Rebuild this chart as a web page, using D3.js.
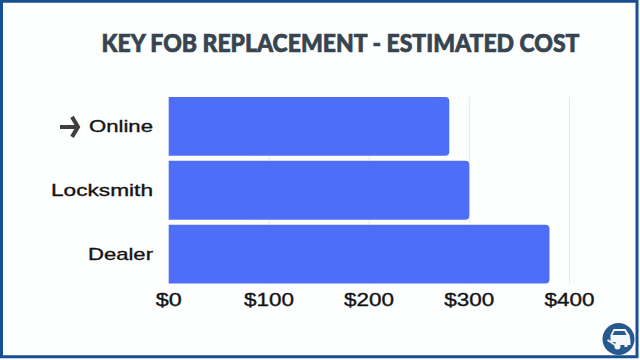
<!DOCTYPE html>
<html><head><meta charset="utf-8">
<script src="https://cdn.jsdelivr.net/npm/d3@7"></script>
<style>html,body{margin:0;padding:0;background:#fdfefe;overflow:hidden}svg{display:block}</style>
</head><body><svg id="c" width="640" height="360"></svg>
<script>
const titleText = "KEY FOB REPLACEMENT - ESTIMATED COST";
const categories = ["Online", "Locksmith", "Dealer"];
const costs = [280, 300, 380];
const tickValues = [0, 100, 200, 300, 400];

const svg = d3.select("#c");
const x = d3.scaleLinear().domain([0, 400]).range([168.7, 569.5]);
const y = d3.scaleBand().domain(categories).range([97, 283.5]).paddingInner(0.08).paddingOuter(0);

// frame
svg.append("rect").attr("x",1.5).attr("y",1.25).attr("width",635.5).attr("height",355.5)
  .attr("fill","#fdfefe").attr("stroke","#174f92").attr("stroke-width",3);

// gridlines
svg.append("g").selectAll("line").data(tickValues.slice(1)).join("line")
  .attr("x1",d=>x(d)).attr("x2",d=>x(d)).attr("y1",97).attr("y2",284)
  .attr("stroke","#e6e8ea").attr("stroke-width",1);

// bars: square on the left, rounded on the right
svg.append("g").selectAll("path").data(costs).join("path")
  .attr("fill","#4f6ef7")
  .attr("d",(d,i)=>{
    const x0=x(0), x1=x(d), y0=y(categories[i]), h=y.bandwidth(), r=4;
    return `M${x0},${y0}H${x1-r}Q${x1},${y0} ${x1},${y0+r}V${y0+h-r}Q${x1},${y0+h} ${x1-r},${y0+h}H${x0}Z`;
  });

// category labels
svg.append("g").selectAll("text").data(categories).join("text")
  .attr("x",153).attr("y",d=>y(d)+y.bandwidth()/2+6)
  .attr("text-anchor","end")
  .attr("font-family","'Liberation Sans',Arial,sans-serif")
  .attr("font-size",17).attr("fill","#141414")
  .attr("stroke","#141414").attr("stroke-width",0.35)
  .attr("textLength",d=>({Online:64,Locksmith:102,Dealer:65})[d])
  .attr("lengthAdjust","spacingAndGlyphs")
  .text(d=>d);

// value axis labels
svg.append("g").selectAll("text").data(tickValues).join("text")
  .attr("x",d=>x(d)).attr("y",306)
  .attr("text-anchor","middle")
  .attr("font-family","'Liberation Sans',Arial,sans-serif")
  .attr("font-size",18).attr("fill","#141414")
  .attr("stroke","#141414").attr("stroke-width",0.35)
  .attr("textLength",d=>d===0?26:50)
  .attr("lengthAdjust","spacingAndGlyphs")
  .text(d=>"$"+d);

// title
svg.append("text").attr("x",101.5).attr("y",52)
  .attr("font-family","Lato,sans-serif").attr("font-weight",900)
  .attr("font-size",25).attr("fill","#36454f")
  .attr("stroke","#36454f").attr("stroke-width",0.7)
  .attr("textLength",478).attr("lengthAdjust","spacingAndGlyphs")
  .text(titleText);

// arrow marker next to Online
const ay = y("Online")+y.bandwidth()/2+0.5;
svg.append("path").attr("fill","none").attr("stroke","#3f3f3f").attr("stroke-width",4)
  .attr("d",`M60,${ay}H77M72,${ay-10}L78,${ay}L72,${ay+10}`);

// logo badge
const logo = svg.append("g").attr("transform","translate(618.5,339)");
logo.append("circle").attr("r",16).attr("fill","#265a8f");
logo.append("path").attr("fill","#f4f7fa")
  .attr("d","M-8,-4L-5,-10H7L11,-4L12,2V6H9V8H6V6H-3V3H-8V-1Z");
logo.append("path").attr("fill","#265a8f").attr("d","M-4,-8H6L8,-4H-6Z");
logo.append("circle").attr("cx",-1).attr("cy",7.5).attr("r",3).attr("fill","#f4f7fa");
logo.append("line").attr("x1",-1).attr("y1",7.5).attr("x2",-11).attr("y2",1)
  .attr("stroke","#f4f7fa").attr("stroke-width",2);
</script></body></html>
